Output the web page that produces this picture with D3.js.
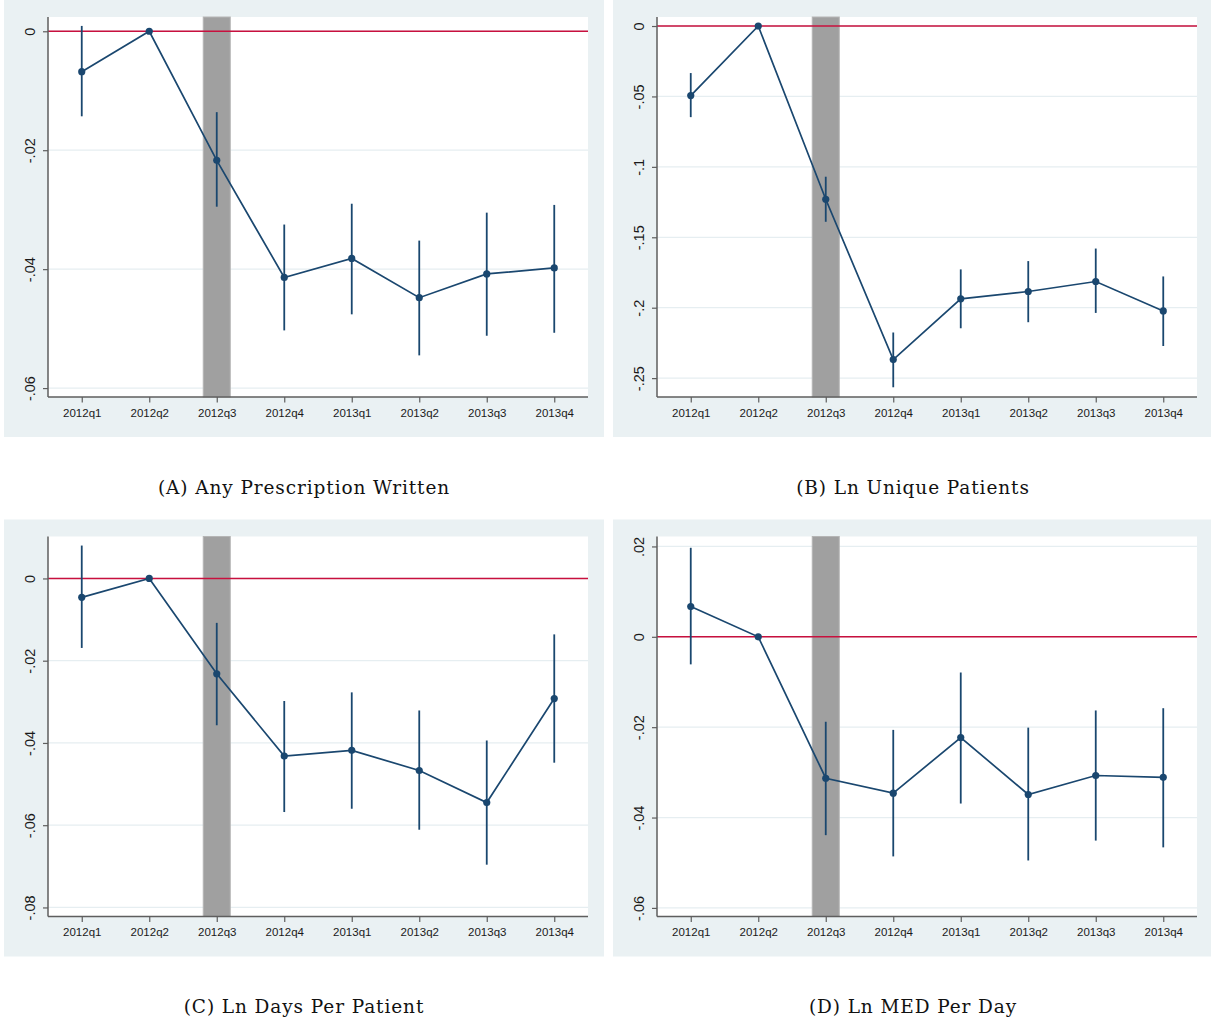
<!DOCTYPE html>
<html><head><meta charset="utf-8">
<script src="https://cdn.jsdelivr.net/npm/d3@7"></script>
<style>body{margin:0;background:#fff;}svg{display:block;}</style>
</head><body>
<script>
// ---------- data ----------
const quarters = ["2012q1","2012q2","2012q3","2012q4","2013q1","2013q2","2013q3","2013q4"];
const shadeRange = [2.8, 3.2]; // shaded quarter (2012q3), in quarter-index units

// (A) Any Prescription Written
const anyRxEst = [-0.0068, 0, -0.0217, -0.0414, -0.0382, -0.0448, -0.0408, -0.0398];
const anyRxLo  = [-0.0143, 0, -0.0295, -0.0503, -0.0476, -0.0545, -0.0512, -0.0507];
const anyRxHi  = [ 0.0009, 0, -0.0136, -0.0325, -0.0290, -0.0352, -0.0305, -0.0292];
const anyRxTicks = [0, -0.02, -0.04, -0.06];
const anyRxDomain = [-0.0615, 0.0024];

// (B) Ln Unique Patients
const patientsEst = [-0.0494, 0, -0.1230, -0.2368, -0.1937, -0.1885, -0.1814, -0.2023];
const patientsLo  = [-0.0647, 0, -0.1390, -0.2565, -0.2146, -0.2103, -0.2037, -0.2272];
const patientsHi  = [-0.0334, 0, -0.1070, -0.2176, -0.1728, -0.1669, -0.1580, -0.1778];
const patientsTicks = [0, -0.05, -0.1, -0.15, -0.2, -0.25];
const patientsDomain = [-0.2634, 0.0064];

// (C) Ln Days Per Patient
const daysEst = [-0.0046, 0, -0.0232, -0.0432, -0.0418, -0.0467, -0.0545, -0.0292];
const daysLo  = [-0.0169, 0, -0.0357, -0.0568, -0.0560, -0.0611, -0.0696, -0.0448];
const daysHi  = [ 0.0080, 0, -0.0108, -0.0298, -0.0277, -0.0321, -0.0394, -0.0136];
const daysTicks = [0, -0.02, -0.04, -0.06, -0.08];
const daysDomain = [-0.0822, 0.0102];

// (D) Ln MED Per Day
const medEst = [0.0067, 0, -0.0313, -0.0346, -0.0223, -0.0349, -0.0307, -0.0311];
const medLo  = [-0.0061, 0, -0.0439, -0.0486, -0.0369, -0.0495, -0.0451, -0.0466];
const medHi  = [0.0197, 0, -0.0188, -0.0206, -0.0079, -0.0201, -0.0163, -0.0158];
const medTicks = [0.02, 0, -0.02, -0.04, -0.06];
const medDomain = [-0.0619, 0.0222];

const captions = ["(A) Any Prescription Written", "(B) Ln Unique Patients",
                  "(C) Ln Days Per Patient", "(D) Ln MED Per Day"];

// ---------- layout ----------
const W = 1211, H = 1022;
const panels = [
  {est: anyRxEst, lo: anyRxLo, hi: anyRxHi, ticks: anyRxTicks, domain: anyRxDomain, caption: captions[0], ox: 4,   oy: 0,     cy: 494},
  {est: patientsEst, lo: patientsLo, hi: patientsHi, ticks: patientsTicks, domain: patientsDomain, caption: captions[1], ox: 613, oy: 0, cy: 494},
  {est: daysEst, lo: daysLo, hi: daysHi, ticks: daysTicks, domain: daysDomain, caption: captions[2], ox: 4,   oy: 519.5, cy: 1013},
  {est: medEst, lo: medLo, hi: medHi, ticks: medTicks, domain: medDomain, caption: captions[3], ox: 613, oy: 519.5, cy: 1013}
];
const bgW = 600, bgH = 437;
const plotL = 44, plotT = 17, plotW = 540, plotH = 380;

const navy = "#1A476F", red = "#C8103E", grid = "#E6EEF1", bgCol = "#EAF1F3", axisCol = "#5E5E5E";

const fmt = v => v === 0 ? "0" : String(v).replace("0.", ".");

const svg = d3.select("body").append("svg").attr("width", W).attr("height", H);

panels.forEach(p => {
  const g = svg.append("g").attr("transform", `translate(${p.ox},${p.oy})`);
  g.append("rect").attr("width", Math.min(bgW, W - p.ox)).attr("height", bgH).attr("fill", bgCol);

  const pg = g.append("g").attr("transform", `translate(${plotL},${plotT})`);
  pg.append("rect").attr("width", plotW).attr("height", plotH).attr("fill", "#fff");

  const x = d3.scaleLinear().domain([0.5, 8.5]).range([0, plotW]);
  const y = d3.scaleLinear().domain(p.domain).range([plotH, 0]);

  // gridlines
  pg.selectAll("line.grid").data(p.ticks).join("line")
    .attr("x1", 0).attr("x2", plotW)
    .attr("y1", d => y(d)).attr("y2", d => y(d))
    .attr("stroke", grid).attr("stroke-width", 1.3);

  // shaded quarter
  pg.append("rect")
    .attr("x", x(shadeRange[0])).attr("width", x(shadeRange[1]) - x(shadeRange[0]))
    .attr("y", 0).attr("height", plotH)
    .attr("fill", "#A0A0A0").attr("stroke", "#B5B5B5").attr("stroke-width", 1);

  // zero line
  pg.append("line").attr("x1", 0).attr("x2", plotW)
    .attr("y1", y(0)).attr("y2", y(0))
    .attr("stroke", red).attr("stroke-width", 1.6);

  const idx = d3.range(quarters.length);
  // error bars
  pg.selectAll("line.ci").data(idx).join("line")
    .attr("x1", i => x(i + 1)).attr("x2", i => x(i + 1))
    .attr("y1", i => y(p.lo[i])).attr("y2", i => y(p.hi[i]))
    .attr("stroke", navy).attr("stroke-width", 1.8);

  // line
  pg.append("path")
    .attr("d", d3.line().x(i => x(i + 1)).y(i => y(p.est[i]))(idx))
    .attr("fill", "none").attr("stroke", navy).attr("stroke-width", 1.7);

  // points
  pg.selectAll("circle").data(idx).join("circle")
    .attr("cx", i => x(i + 1)).attr("cy", i => y(p.est[i]))
    .attr("r", 3.6).attr("fill", navy);

  // y axis
  const ya = pg.append("g").call(d3.axisLeft(y).tickValues(p.ticks).tickFormat(fmt).tickSize(5).tickSizeOuter(0));
  ya.select(".domain").attr("stroke", axisCol).attr("stroke-width", 1.5).attr("d", `M0,0V${plotH}`);
  ya.selectAll(".tick line").attr("stroke", axisCol).attr("stroke-width", 1.2);
  ya.selectAll(".tick text")
    .attr("x", 0).attr("y", -13.5).attr("dy", 0)
    .attr("transform", "rotate(-90)").attr("text-anchor", "middle")
    .attr("font-family", "'Liberation Sans', Arial, sans-serif").attr("font-size", 14.5).attr("fill", "#1a1a1a");

  // x axis
  const xa = pg.append("g").attr("transform", `translate(0,${plotH})`)
    .call(d3.axisBottom(x).tickValues(idx.map(i => i + 1)).tickFormat(v => quarters[v - 1]).tickSize(5.5).tickSizeOuter(0));
  xa.select(".domain").attr("stroke", axisCol).attr("stroke-width", 1.5).attr("d", `M0,0H${plotW}`);
  xa.selectAll(".tick line").attr("stroke", axisCol).attr("stroke-width", 1.2);
  xa.selectAll(".tick text").attr("y", 19.6).attr("dy", 0)
    .attr("font-family", "'Liberation Sans', Arial, sans-serif").attr("font-size", 11.5).attr("fill", "#1a1a1a");

  // caption
  svg.append("text").attr("x", p.ox + bgW / 2).attr("y", p.cy)
    .attr("text-anchor", "middle")
    .attr("font-family", "'DejaVu Serif', serif").attr("font-size", 18.5).attr("fill", "#111")
    .attr("letter-spacing", 0.9)
    .text(p.caption);
});
</script>
</body></html>
